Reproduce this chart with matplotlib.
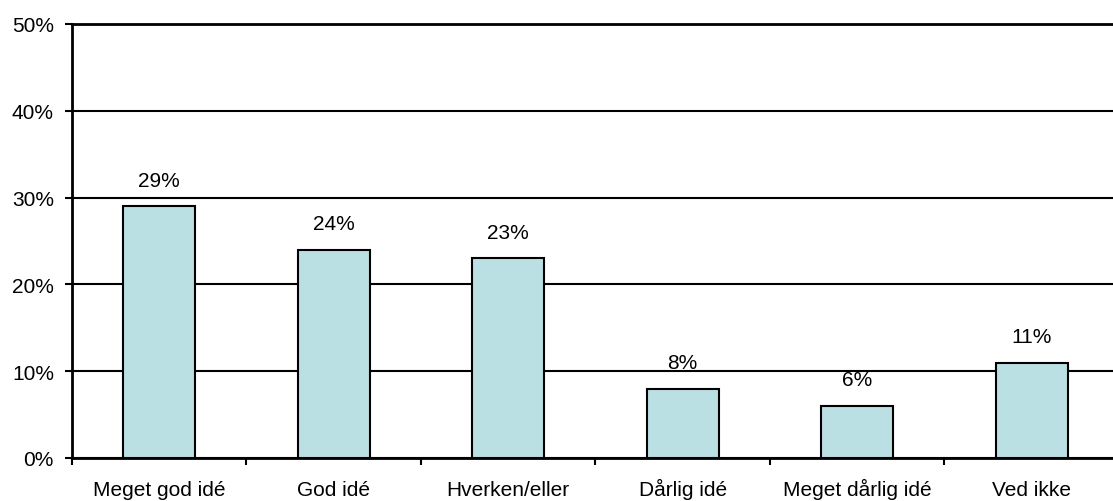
import matplotlib
matplotlib.use("Agg")
import matplotlib.pyplot as plt
from matplotlib.ticker import FuncFormatter, FixedLocator

categories = ["Meget god idé", "God idé", "Hverken/eller", "Dårlig idé", "Meget dårlig idé", "Ved ikke"]
values = [29, 24, 23, 8, 6, 11]
value_labels = ["29%", "24%", "23%", "8%", "6%", "11%"]
yticks = [0, 10, 20, 30, 40, 50]

plt.rcParams['font.family'] = ['Liberation Sans', 'DejaVu Sans']
FS = 15

fig = plt.figure(figsize=(11.13, 5.02), dpi=100)
ax = fig.add_axes([72/1113, 43/502, 1047/1113, 434/502])

x = list(range(len(categories)))
ax.bar(x, values, width=0.41, color="#BBE0E3", edgecolor="black", linewidth=1.5, zorder=3)

for xi, v, lab in zip(x, values, value_labels):
    ax.annotate(lab, (xi, v), xytext=(0, 12), textcoords="offset points",
                ha="center", va="bottom", fontsize=FS)

ax.set_xlim(-0.5, len(categories) - 0.5)
ax.set_ylim(0, 50)
ax.set_yticks(yticks)
ax.yaxis.set_major_formatter(FuncFormatter(lambda v, p: f"{int(v)}%"))
ax.grid(axis="y", color="black", linewidth=1.5, zorder=1)
ax.set_axisbelow(True)

ax.set_xticks(x)
ax.set_xticklabels(categories, fontsize=FS)
for t in ax.get_xticklabels():
    t.set_va("baseline")
ax.xaxis.set_minor_locator(FixedLocator([i + 0.5 for i in range(-1, len(categories))]))
ax.tick_params(axis="x", which="major", length=0, pad=26.5)
ax.tick_params(axis="x", which="minor", length=5, width=1.5, direction="out")
ax.tick_params(axis="y", length=5, width=1.5, direction="out", labelsize=FS, pad=8)

ax.spines["right"].set_visible(False)
ax.spines["top"].set_linewidth(2)
ax.spines["left"].set_linewidth(2)
ax.spines["bottom"].set_linewidth(2)

fig.savefig("out.png", dpi=100)
